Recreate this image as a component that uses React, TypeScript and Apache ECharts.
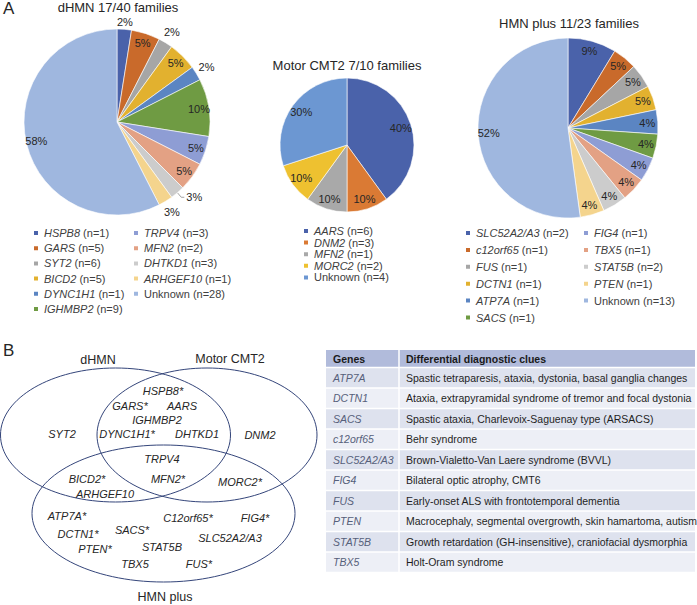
import React, { useEffect, useRef } from 'react';
import * as echarts from 'echarts';

const FONT = '"Liberation Sans", Arial, Helvetica, sans-serif';

// ---------- Panel A data ----------
// dHMN pie (families) and legend (patients)
const dhmnGenes = ['HSPB8', 'GARS', 'SYT2', 'BICD2', 'DYNC1H1', 'IGHMBP2', 'TRPV4', 'MFN2', 'DHTKD1', 'ARHGEF10', 'Unknown'];
const dhmnFamilies = [1, 2, 1, 2, 1, 4, 2, 2, 1, 1, 23];
const dhmnPatients = [1, 5, 6, 5, 1, 9, 3, 2, 3, 1, 28];
const dhmnPct = ['2%', '5%', '2%', '5%', '2%', '10%', '5%', '5%', '3%', '3%', '58%'];
const dhmnPlacement = ['near', 'in', 'out', 'in', 'out', 'in', 'in', 'in', 'line', 'out', 'in'];

// Motor CMT2 pie
const cmt2Genes = ['AARS', 'DNM2', 'MFN2', 'MORC2', 'Unknown'];
const cmt2Families = [4, 1, 1, 1, 3];
const cmt2Patients = [6, 3, 1, 2, 4];
const cmt2Pct = ['40%', '10%', '10%', '10%', '30%'];

// HMN plus pie
const hmnGenes = ['SLC52A2/A3', 'c12orf65', 'FUS', 'DCTN1', 'ATP7A', 'SACS', 'FIG4', 'TBX5', 'STAT5B', 'PTEN', 'Unknown'];
const hmnFamilies = [2, 1, 1, 1, 1, 1, 1, 1, 1, 1, 12];
const hmnPatients = [2, 1, 1, 1, 1, 1, 1, 1, 2, 1, 13];
const hmnPct = ['9%', '5%', '5%', '5%', '4%', '4%', '4%', '4%', '4%', '4%', '52%'];

// ---------- Panel B data ----------
const vennSets = ['dHMN', 'Motor CMT2', 'HMN plus'];
const vennGenes = [
  'HSPB8*', 'GARS*', 'AARS', 'IGHMBP2', 'DYNC1H1*', 'DHTKD1', 'SYT2', 'DNM2',
  'TRPV4', 'MFN2*', 'BICD2*', 'ARHGEF10', 'MORC2*',
  'ATP7A*', 'C12orf65*', 'FIG4*', 'DCTN1*', 'SACS*', 'SLC52A2/A3', 'PTEN*', 'STAT5B', 'TBX5', 'FUS*',
];
const tableHeader = ['Genes', 'Differential diagnostic clues'];
const tableGenes = ['ATP7A', 'DCTN1', 'SACS', 'c12orf65', 'SLC52A2/A3', 'FIG4', 'FUS', 'PTEN', 'STAT5B', 'TBX5'];
const tableClues = [
  'Spastic tetraparesis, ataxia, dystonia, basal ganglia changes',
  'Ataxia, extrapyramidal syndrome of tremor and focal dystonia',
  'Spastic ataxia, Charlevoix-Saguenay type (ARSACS)',
  'Behr syndrome',
  'Brown-Vialetto-Van Laere syndrome (BVVL)',
  'Bilateral optic atrophy, CMT6',
  'Early-onset ALS with frontotemporal dementia',
  'Macrocephaly, segmental overgrowth, skin hamartoma, autism',
  'Growth retardation (GH-insensitive), craniofacial dysmorphia',
  'Holt-Oram syndrome',
];

// ---------- styles / layout ----------
const palette11 = ['#4A62AA', '#C96A2B', '#A6A6A6', '#E2B12F', '#5B85C2', '#6F9B43', '#8E9DD4', '#E3A184', '#CCCCCC', '#F4D48D', '#9FB7DF'];
const cmt2Colors = ['#4A62AA', '#DA7A34', '#A9A9A9', '#EEC130', '#6C97D2'];

const vennEllipses = [
  { cx: 115.5, cy: 435, rx: 115, ry: 67 },
  { cx: 207, cy: 435, rx: 110, ry: 67 },
  { cx: 163.5, cy: 513.5, rx: 131.5, ry: 68.5 },
];
const vennTitlePos = [[98, 360], [230, 359], [165, 597]];
const vennGenePos = [
  [163, 391], [130, 406], [182, 406], [157, 420], [127, 434], [197, 434], [62, 434], [260, 435],
  [162, 459], [168, 479], [87, 479], [105, 494], [240, 482],
  [67, 516], [188, 518], [255, 518], [78, 534], [132, 530], [230, 538], [95, 549], [162, 547], [135, 564], [199, 564],
];

const TXT = '#262626';

function legendName(g: string, n: number) {
  return `${g} (n=${n})`;
}

function legendFormatter(name: string) {
  const idx = name.indexOf(' (');
  const gene = name.slice(0, idx);
  const rest = name.slice(idx);
  if (gene === 'Unknown') return `{n|${name}}`;
  return `{i|${gene}}{n|${rest}}`;
}

function legendTextStyle(lh: number) {
  return {
    fontSize: 11,
    fontFamily: FONT,
    color: '#404040',
    lineHeight: lh,
    rich: {
      i: { fontSize: 11, fontFamily: FONT, fontStyle: 'italic', color: '#404040', lineHeight: lh },
      n: { fontSize: 11, fontFamily: FONT, color: '#404040', lineHeight: lh },
    },
  };
}

function makeLegend(names: string[], left: number, top: number, lh: number, gap: number) {
  return {
    orient: 'vertical',
    left,
    top,
    padding: 0,
    icon: 'rect',
    itemWidth: 6,
    itemHeight: 6,
    itemGap: gap,
    selectedMode: false,
    data: names,
    formatter: legendFormatter,
    textStyle: legendTextStyle(lh),
  };
}

function pieSeries(
  names: string[],
  values: number[],
  colors: string[],
  pct: string[],
  placement: string[],
  center: [number, number],
  r: number,
  innerK: number,
) {
  const labelBase = { fontSize: 11, fontFamily: FONT, color: TXT };
  const main = {
    type: 'pie',
    center,
    radius: r,
    startAngle: 90,
    clockwise: true,
    silent: true,
    avoidLabelOverlap: false,
    itemStyle: { borderColor: '#ffffff', borderWidth: 0.6 },
    label: { show: false },
    labelLine: { show: false },
    data: names.map((n, i) => ({
      name: n,
      value: values[i],
      itemStyle: { color: colors[i] },
      label:
        placement[i] === 'line'
          ? { show: true, position: 'outside', formatter: pct[i], distanceToLabelLine: 2, ...labelBase }
          : { show: false },
      labelLine:
        placement[i] === 'line'
          ? { show: true, length: 6, length2: 3, lineStyle: { color: '#8a8a8a', width: 0.8 } }
          : { show: false },
    })),
  };
  const ring = (inner: number, outer: number, which: string, key: string) => ({
    type: 'pie',
    center,
    radius: [inner, outer],
    startAngle: 90,
    clockwise: true,
    silent: true,
    avoidLabelOverlap: false,
    itemStyle: { color: 'rgba(0,0,0,0)', borderWidth: 0 },
    labelLine: { show: false },
    label: { position: 'inside', ...labelBase },
    data: values.map((v, i) => ({
      name: `_${key}${i}`,
      value: v,
      label: { show: placement[i] === which, formatter: pct[i] },
    })),
  });
  return [
    main,
    ring(r * innerK, r, 'in', 'in' + center[0]),
    ring(r, r + 18, 'out', 'out' + center[0]),
    ring(r, r + 9, 'near', 'near' + center[0]),
  ];
}

function buildGraphic() {
  const els: any[] = [];
  const text = (t: string, x: number, y: number, size: number, extra: any = {}) => ({
    type: 'text',
    x,
    y,
    z: 10,
    style: {
      text: t,
      fontSize: size,
      fontFamily: FONT,
      fill: TXT,
      align: extra.align || 'center',
      textAlign: extra.align || 'center',
      verticalAlign: 'middle',
      textVerticalAlign: 'middle',
      fontStyle: extra.fontStyle || 'normal',
      fontWeight: extra.fontWeight || 'normal',
      ...(extra.fill ? { fill: extra.fill } : {}),
    },
  });

  // panel letters & pie titles
  els.push(text('A', 3, 8, 17, { align: 'left' }));
  els.push(text('B', 3, 350, 17, { align: 'left' }));
  els.push(text('dHMN 17/40 families', 118, 7, 13));
  els.push(text('Motor CMT2 7/10 families', 347, 65, 13));
  els.push(text('HMN plus 11/23 families', 569, 23, 13));

  // Venn
  vennEllipses.forEach((e) => {
    els.push({
      type: 'ellipse',
      shape: e,
      z: 5,
      style: { fill: 'none', stroke: '#34457A', lineWidth: 1 },
    });
  });
  vennSets.forEach((s, i) => els.push(text(s, vennTitlePos[i][0], vennTitlePos[i][1], 12.5)));
  vennGenes.forEach((g, i) => els.push(text(g, vennGenePos[i][0], vennGenePos[i][1], 11, { fontStyle: 'italic' })));

  // Table
  const tL = 326, tD = 399, tR = 695, tTop = 350, hH = 17.5, rH = 20.5;
  const fs = 10.5;
  els.push({ type: 'rect', z: 1, shape: { x: tL, y: tTop, width: tR - tL, height: hH }, style: { fill: '#B1BBDB' } });
  tableGenes.forEach((_, i) => {
    els.push({
      type: 'rect',
      z: 1,
      shape: { x: tL, y: tTop + hH + i * rH, width: tR - tL, height: rH },
      style: { fill: i % 2 === 0 ? '#DEE2EE' : '#EDEFF6' },
    });
  });
  for (let i = 0; i <= tableGenes.length; i++) {
    const y = tTop + hH + i * rH;
    els.push({ type: 'line', z: 2, shape: { x1: tL, y1: y, x2: tR, y2: y }, style: { stroke: '#ffffff', lineWidth: 1.5 } });
  }
  els.push({
    type: 'line',
    z: 2,
    shape: { x1: tD, y1: tTop, x2: tD, y2: tTop + hH + tableGenes.length * rH },
    style: { stroke: '#ffffff', lineWidth: 1.5 },
  });
  els.push(text(tableHeader[0], tL + 7, tTop + hH / 2, fs, { align: 'left', fontWeight: 'bold', fill: '#1a1a1a' }));
  els.push(text(tableHeader[1], tD + 7, tTop + hH / 2, fs, { align: 'left', fontWeight: 'bold', fill: '#1a1a1a' }));
  tableGenes.forEach((g, i) => {
    const y = tTop + hH + i * rH + rH / 2;
    els.push(text(g, tL + 7, y, fs, { align: 'left', fontStyle: 'italic', fill: '#56607A' }));
    els.push(text(tableClues[i], tD + 7, y, fs, { align: 'left', fill: '#1f1f1f' }));
  });
  return els;
}

export default function App() {
  const ref = useRef<HTMLDivElement>(null);
  useEffect(() => {
    if (!ref.current) return;
    const chart = echarts.init(ref.current, null, { renderer: 'svg' });
    const dhmnNames = dhmnGenes.map((g, i) => legendName(g, dhmnPatients[i]));
    const cmt2Names = cmt2Genes.map((g, i) => legendName(g, cmt2Patients[i]));
    const hmnNames = hmnGenes.map((g, i) => legendName(g, hmnPatients[i]));
    const none = (n: string[]) => n.map(() => 'in');
    const option: any = {
      animation: false,
      backgroundColor: '#ffffff',
      textStyle: { fontFamily: FONT },
      legend: [
        makeLegend(dhmnNames.slice(0, 6), 32, 226.5, 13, 2.2),
        makeLegend(dhmnNames.slice(6), 132, 226.5, 13, 2.2),
        makeLegend(cmt2Names, 302, 225.5, 11, 0.6),
        makeLegend(hmnNames.slice(0, 6), 464, 226.5, 13, 3.9),
        makeLegend(hmnNames.slice(6), 582, 226.5, 13, 3.9),
      ],
      series: [
        ...pieSeries(dhmnNames, dhmnFamilies, palette11, dhmnPct, dhmnPlacement, [117, 122], 93, 0.72),
        ...pieSeries(cmt2Names, cmt2Families, cmt2Colors, cmt2Pct, none(cmt2Names), [347, 145], 67, 0.6),
        ...pieSeries(hmnNames, hmnFamilies, palette11, hmnPct, none(hmnNames), [568, 128], 90, 0.7),
      ],
      graphic: { elements: buildGraphic() },
    };
    chart.setOption(option);
    return () => chart.dispose();
  }, []);
  return (
    <div
      ref={ref}
      style={{ position: 'fixed', left: 0, top: 0, width: 697, height: 605, background: '#fff' }}
    />
  );
}
